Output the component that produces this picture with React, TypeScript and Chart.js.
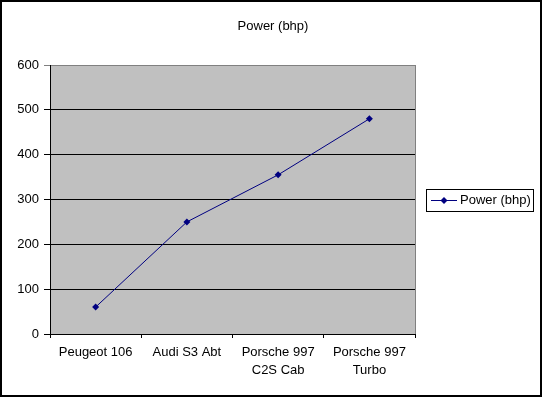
import React, { useEffect, useRef } from "react";
import { Chart, registerables } from "chart.js";

Chart.register(...registerables);

const categories: (string | string[])[] = [
  "Peugeot 106",
  "Audi S3 Abt",
  ["Porsche 997", "C2S Cab"],
  ["Porsche 997", "Turbo"],
];
const powerValues = [60, 250, 355, 480];
const seriesLabel = "Power (bhp)";
const chartTitle = "Power (bhp)";
const yMin = 0;
const yMax = 600;
const yStep = 100;

const FONT = "'Liberation Sans', Arial, sans-serif";
const NAVY = "#000080";

const decorPlugin = {
  id: "decor",
  beforeDraw(chart: any) {
    const { ctx, chartArea, width, height } = chart;
    ctx.save();
    ctx.fillStyle = "#ffffff";
    ctx.fillRect(0, 0, width, height);
    ctx.strokeStyle = "#000000";
    ctx.lineWidth = 2;
    ctx.strokeRect(1, 1, width - 3, height - 3);
    ctx.fillStyle = "#C0C0C0";
    ctx.fillRect(chartArea.left, chartArea.top, chartArea.right - chartArea.left, chartArea.bottom - chartArea.top);
    ctx.strokeStyle = "#808080";
    ctx.lineWidth = 1;
    ctx.beginPath();
    ctx.moveTo(Math.round(chartArea.right) + 0.5, chartArea.top);
    ctx.lineTo(Math.round(chartArea.right) + 0.5, chartArea.bottom);
    ctx.stroke();
    ctx.restore();
  },
  afterDraw(chart: any) {
    const { ctx } = chart;
    ctx.save();
    // title
    ctx.fillStyle = "#000000";
    ctx.font = `13px ${FONT}`;
    ctx.textAlign = "center";
    ctx.textBaseline = "middle";
    ctx.fillText(chartTitle, 273, 26);
    // legend
    const bx = 426.5, by = 189.5, bw = 107, bh = 22;
    ctx.strokeStyle = "#000000";
    ctx.lineWidth = 1;
    ctx.strokeRect(bx, by, bw, bh);
    const cy = 200.5;
    ctx.strokeStyle = NAVY;
    ctx.beginPath();
    ctx.moveTo(431, cy);
    ctx.lineTo(457, cy);
    ctx.stroke();
    ctx.fillStyle = NAVY;
    ctx.beginPath();
    ctx.moveTo(444, cy - 3.5);
    ctx.lineTo(447.5, cy);
    ctx.lineTo(444, cy + 3.5);
    ctx.lineTo(440.5, cy);
    ctx.closePath();
    ctx.fill();
    ctx.fillStyle = "#000000";
    ctx.textAlign = "left";
    ctx.fillText(chart.data.datasets[0].label, 460, cy);
    ctx.restore();
  },
};

export default function App() {
  const ref = useRef<HTMLCanvasElement>(null);
  useEffect(() => {
    if (!ref.current) return;
    const chart = new Chart(ref.current, {
      type: "line",
      data: {
        labels: categories,
        datasets: [
          {
            label: seriesLabel,
            data: powerValues,
            borderColor: NAVY,
            backgroundColor: NAVY,
            borderWidth: 1,
            pointStyle: "rectRot",
            pointRadius: 3.5,
            pointBorderWidth: 0,
            tension: 0,
          },
        ],
      },
      options: {
        responsive: false,
        animation: false,
        layout: { padding: { left: 0, top: 65, right: 128, bottom: 0 } },
        plugins: {
          legend: { display: false },
          title: { display: false },
          tooltip: { enabled: false },
        },
        scales: {
          x: {
            offset: true,
            afterFit(scale: any) {
              scale.height = 64;
            },
            grid: {
              offset: true,
              drawOnChartArea: false,
              color: "#000000",
              tickLength: 4,
            },
            border: { color: "#000000", width: 1 },
            ticks: {
              color: "#000000",
              font: { family: FONT, size: 13, lineHeight: 1.35 },
              padding: 6,
              maxRotation: 0,
              autoSkip: false,
            },
          },
          y: {
            min: yMin,
            max: yMax,
            afterFit(scale: any) {
              scale.width = 50;
            },
            grid: {
              color: (c: any) => (c.tick && c.tick.value === yMax ? "#808080" : "#000000"),
              tickLength: 6,
            },
            border: { color: "#000000", width: 1 },
            ticks: {
              stepSize: yStep,
              color: "#000000",
              font: { family: FONT, size: 13 },
              padding: 5,
            },
          },
        },
      },
      plugins: [decorPlugin],
    });
    return () => chart.destroy();
  }, []);
  return (
    <div style={{ position: "fixed", left: 0, top: 0 }}>
      <canvas ref={ref} width={543} height={398} style={{ display: "block" }} />
    </div>
  );
}
